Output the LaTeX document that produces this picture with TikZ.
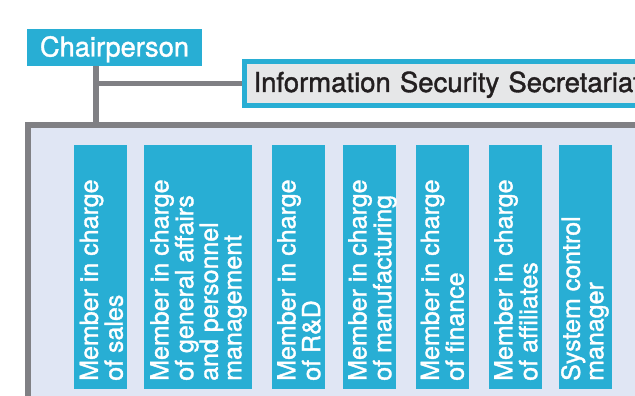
\documentclass[tikz,border=0pt]{standalone}
\usepackage{fontspec}
\setmainfont{TeX Gyre Heros}[FakeBold=1.4]
\definecolor{brand}{RGB}{40,174,212}
\definecolor{panelfill}{RGB}{224,230,244}
\definecolor{rulegrey}{RGB}{128,128,132}
\definecolor{secfill}{RGB}{230,231,232}
\definecolor{ink}{RGB}{35,31,32}
\begin{document}
\begin{tikzpicture}[x=1pt,y=1pt,
  connector/.style={draw=rulegrey, line width=5.5pt},
  headbox/.style={fill=brand, text=white, inner sep=0pt, outer sep=0pt,
    minimum width=175pt, minimum height=37pt,
    font=\fontsize{27.3}{29}\selectfont, text height=18pt, text depth=0pt},
  secbox/.style={fill=secfill, draw=brand, line width=5pt, text=ink,
    anchor=west, minimum height=44pt, text width=440pt, align=left,
    inner xsep=9pt, inner ysep=0pt,
    font=\fontsize{27.5}{29}\selectfont, text height=17pt, text depth=0pt},
  panel/.style={fill=panelfill, draw=rulegrey, line width=6pt,
    anchor=north west, minimum width=700pt, minimum height=320pt},
  member/.style={fill=brand, inner sep=0pt, outer sep=0pt, anchor=south west,
    minimum height=244pt},
  memtext/.style={rotate=90, anchor=north west, inner sep=0pt, align=left,
    text=white, font=\fontsize{25}{23.4}\selectfont},
]
\useasboundingbox (0,0) rectangle (635,396);
\clip (0,0) rectangle (635,396);

% committee panel
\node[panel] (panel) at (25,274) {};

% chair and secretariat
\node[headbox] (chair) at (114.5,348.5) {Chairperson};
\coordinate (trunk) at ([xshift=68.8pt]chair.south west);
\draw[connector] (trunk) -- (trunk |- panel.north);
\node[secbox] (sec) at (242,312.5) {Information Security Secretariat};
\draw[connector] ([xshift=-2.75pt]trunk |- sec.west) -- (sec.west);

% committee members
\node[member, minimum width=53pt]  (b1) at (74,7)  {};
\node[member, minimum width=108pt] (b2) at (144,7) {};
\node[member, minimum width=53pt]  (b3) at (272,7) {};
\node[member, minimum width=53pt]  (b4) at (343,7) {};
\node[member, minimum width=53pt]  (b5) at (416,7) {};
\node[member, minimum width=53pt]  (b6) at (489,7) {};
\node[member, minimum width=53pt]  (b7) at (559,7) {};

\node[memtext] (l1) at ([xshift=5.5pt,yshift=8pt]b1.south west) {Member in charge\\of sales};
\node[memtext] (l2) at ([xshift=6pt,yshift=8pt]b2.south west) {Member in charge\\of general affairs\\and personnel\\management};
\node[memtext] (l3) at ([xshift=5pt,yshift=8pt]b3.south west) {Member in charge\\of R\&D};
\node[memtext] (l4) at ([xshift=5pt,yshift=8pt]b4.south west) {Member in charge\\of manufacturing};
\node[memtext] (l5) at ([xshift=4.5pt,yshift=8pt]b5.south west) {Member in charge\\of finance};
\node[memtext] (l6) at ([xshift=5pt,yshift=8pt]b6.south west) {Member in charge\\of affiliates};
\node[memtext] (l7) at ([xshift=2pt,yshift=8pt]b7.south west) {System control\\manager};
\end{tikzpicture}
\end{document}
